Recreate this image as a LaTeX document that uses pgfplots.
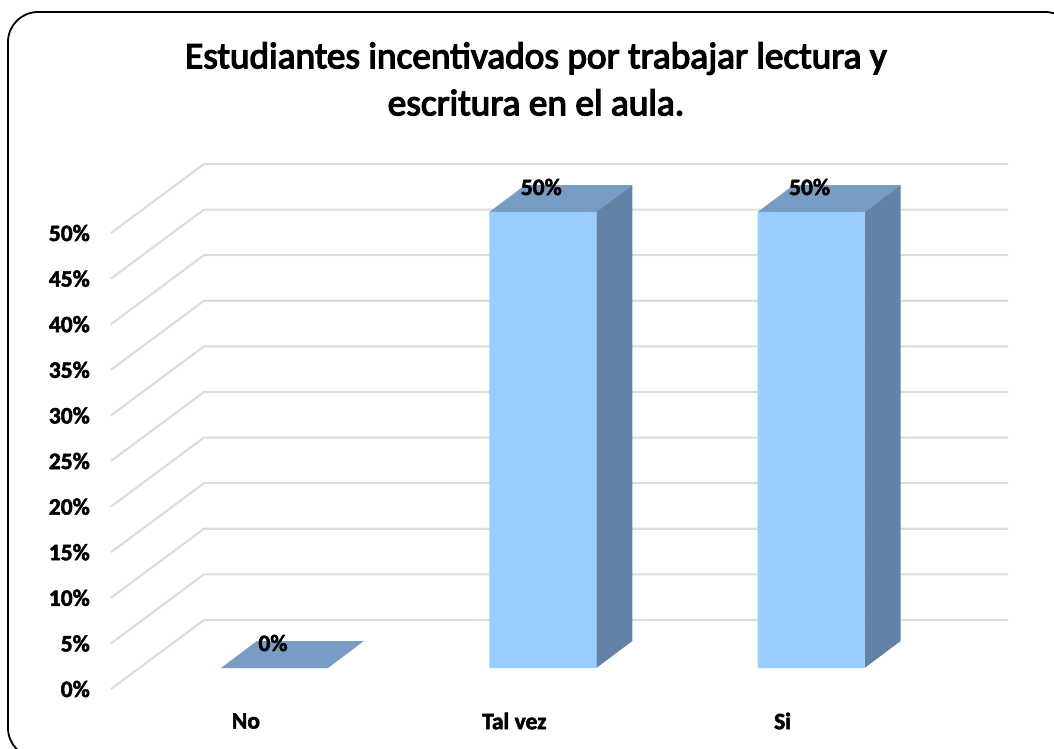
\documentclass[border=0pt]{standalone}
\usepackage{fontspec}
\usepackage{pgfplots}
\pgfplotsset{compat=1.18}
\setmainfont{Carlito}[BoldFeatures={FakeBold=2.2}]
\newfontfamily\titlefont[FakeBold=3.5]{Carlito}
\definecolor{front}{HTML}{99CCFF}
\definecolor{topf}{HTML}{779DC4}
\definecolor{side}{HTML}{6282A8}
\definecolor{gridc}{HTML}{DCDCDC}
\begin{document}
\begin{tikzpicture}[x=1pt,y=1pt]
\clip (0,0) rectangle (1054,748);
\draw[black,line width=1.8pt,rounded corners=30pt] (8,-10) rectangle (1075,736);
\node[font=\titlefont\fontsize{37.3}{47}\selectfont,align=center,anchor=center] at (536,669)
  {Estudiantes incentivados por trabajar lectura y\\escritura en el aula.};
\begin{axis}[
  at={(111pt,59pt)},anchor=south west,
  scale only axis,width=897pt,height=456pt,
  xmin=-0.611,xmax=2.732,ymin=0,ymax=50,
  clip=false,
  /pgf/number format/assume math mode=true,
  axis line style={draw=none},
  major tick length=0pt,
  ytick={0,5,...,50},
  yticklabels={0\%,5\%,10\%,15\%,20\%,25\%,30\%,35\%,40\%,45\%,50\%},
  xtick={0,1,2},
  xticklabels={No,Tal vez,Si},
  tick label style={font=\bfseries\fontsize{23.5}{25}\selectfont,text=black},
  yticklabel style={inner sep=0pt,xshift=-21pt},
  xticklabel style={anchor=center,inner sep=0pt,xshift=-29pt,yshift=-32pt},
  every node near coord/.append style={anchor=center,yshift=46pt,xshift=-2pt,
     font=\bfseries\fontsize{23.5}{25}\selectfont,text=black},
]
% gridlines: side wall + back wall
\addplot[gridc,line width=2.1pt] coordinates {(-0.611,0)(-0.2644,7.57)(2.732,7.57)};
\addplot[gridc,line width=2.1pt] coordinates {(-0.611,5)(-0.2644,12.57)(2.732,12.57)};
\addplot[gridc,line width=2.1pt] coordinates {(-0.611,10)(-0.2644,17.57)(2.732,17.57)};
\addplot[gridc,line width=2.1pt] coordinates {(-0.611,15)(-0.2644,22.57)(2.732,22.57)};
\addplot[gridc,line width=2.1pt] coordinates {(-0.611,20)(-0.2644,27.57)(2.732,27.57)};
\addplot[gridc,line width=2.1pt] coordinates {(-0.611,25)(-0.2644,32.57)(2.732,32.57)};
\addplot[gridc,line width=2.1pt] coordinates {(-0.611,30)(-0.2644,37.57)(2.732,37.57)};
\addplot[gridc,line width=2.1pt] coordinates {(-0.611,35)(-0.2644,42.57)(2.732,42.57)};
\addplot[gridc,line width=2.1pt] coordinates {(-0.611,40)(-0.2644,47.57)(2.732,47.57)};
\addplot[gridc,line width=2.1pt] coordinates {(-0.611,45)(-0.2644,52.57)(2.732,52.57)};
\addplot[gridc,line width=2.1pt] coordinates {(-0.611,50)(-0.2644,57.57)(2.732,57.57)};
% top faces
\addplot[fill=topf,draw=none,yshift=21pt] coordinates {(-0.2013,0)(0.1975,0)(0.3317,2.96)(-0.0671,2.96)} --cycle;
\addplot[fill=topf,draw=none,yshift=21pt] coordinates {(0.7987,50)(1.1975,50)(1.3317,52.96)(0.9329,52.96)} --cycle;
\addplot[fill=topf,draw=none,yshift=21pt] coordinates {(1.7987,50)(2.1975,50)(2.3317,52.96)(1.9329,52.96)} --cycle;
% side faces
\addplot[fill=side,draw=none,yshift=21pt] coordinates {(1.1975,0)(1.3317,2.96)(1.3317,52.96)(1.1975,50)} --cycle;
\addplot[fill=side,draw=none,yshift=21pt] coordinates {(2.1975,0)(2.3317,2.96)(2.3317,52.96)(2.1975,50)} --cycle;
% front faces
\addplot[ybar,bar width=107pt,bar shift=-0.5pt,fill=front,draw=none,yshift=21pt] coordinates {(0,0)(1,50)(2,50)};
% data labels
\addplot[draw=none,mark=none,nodes near coords={\pgfmathprintnumber{\pgfplotspointmeta}\%}] coordinates {(0,0)(1,50)(2,50)};
\end{axis}
\end{tikzpicture}
\end{document}
